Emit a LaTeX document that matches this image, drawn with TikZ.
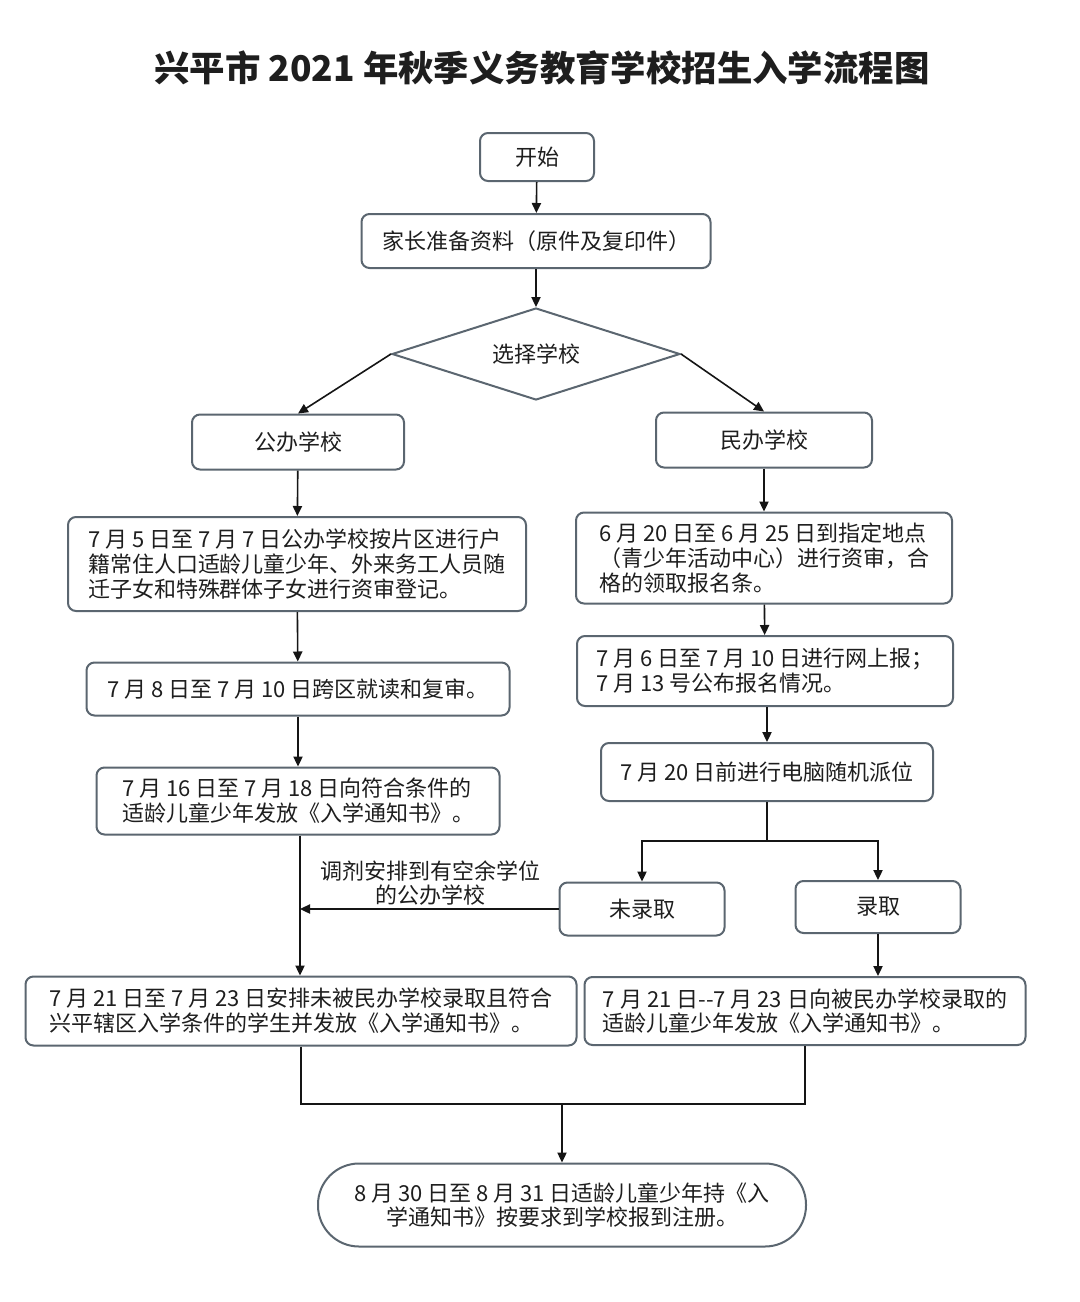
\documentclass[tikz,border=0pt]{standalone}
\usepackage{fontspec}
\setmainfont{Noto Sans CJK SC}
\usepackage{xcolor}
\usepackage{tikz}
\usetikzlibrary{arrows.meta,positioning,calc,shapes.geometric}
\definecolor{FlowInk}{HTML}{1E1E1E}
\definecolor{FlowFrame}{HTML}{5B6670}
\definecolor{FlowArrow}{HTML}{151515}

\tikzset{
  stepbox/.style={draw=FlowFrame,line width=1pt,rounded corners=4pt,
    fill=white,text=FlowInk,inner sep=0pt,
    font=\fontsize{11}{12.4}\selectfont},
  pill/.style={stepbox,rounded corners=20.5pt},
  choice/.style={draw=FlowFrame,line width=1pt,shape=diamond,aspect=3.1,
    inner sep=0pt,text=FlowInk,font=\fontsize{11}{12.4}\selectfont},
  flowline/.style={draw=FlowArrow,line width=0.8pt},
  flowarrow/.style={flowline,-{Triangle[length=5pt,width=4.6pt]}}
}

\begin{document}
\begin{tikzpicture}[x=0.5pt,y=-0.5pt]
  \useasboundingbox[fill=white] (0,0) rectangle (1080,1302);
  % Title.
  \node[FlowInk,font=\fontsize{17.7}{20}\selectfont\bfseries] (title) at (542,68)
        {兴平市 2021 年秋季义务教育学校招生入学流程图};
  % Common start.
  \node[stepbox,minimum width=57pt,minimum height=24pt] (start) at (537,157) {开始};
  \node[stepbox,minimum width=174.5pt,minimum height=27pt] (prep) at (536,241)
        {家长准备资料（原件及复印件）};
  \node[choice,minimum width=144pt,minimum height=46pt] (pick) at (536,354) {选择学校};
  \draw[flowarrow] (start) -- (prep);
  \draw[flowarrow] (prep) -- (pick);
  % Public school branch.
  \node[stepbox,minimum width=106pt,minimum height=27.5pt] (public) at (298,442) {公办学校};
  \node[stepbox,minimum width=229pt,minimum height=47pt,align=left] (pubcheck) at (297,564)
        {7 月 5 日至 7 月 7 日公办学校按片区进行户\\籍常住人口适龄儿童少年、外来务工人员随\\迁子女和特殊群体子女进行资审登记。};
  \node[stepbox,minimum width=211.5pt,minimum height=26.5pt] (pubcross) at (298,689)
        {7 月 8 日至 7 月 10 日跨区就读和复审。};
  \node[stepbox,minimum width=201.5pt,minimum height=33.5pt,align=left] (pubnotice) at (298,801)
        {7 月 16 日至 7 月 18 日向符合条件的\\适龄儿童少年发放《入学通知书》。};
  \node[stepbox,minimum width=275.5pt,minimum height=34.5pt,align=left] (pubassign) at (301,1011)
        {7 月 21 日至 7 月 23 日安排未被民办学校录取且符合\\兴平辖区入学条件的学生并发放《入学通知书》。};
  \draw[flowarrow] (pick.west) -- (public.north);
  \draw[flowarrow] (public) -- (pubcheck);
  \draw[flowarrow] (pubcheck) -- (pubcross);
  \draw[flowarrow] (pubcross) -- (pubnotice);
  \draw[flowarrow] (pubnotice.south) ++(2,0) coordinate (pubdrop) -- (pubdrop |- pubassign.north);
  % Private school branch.
  \node[stepbox,minimum width=108pt,minimum height=27.5pt] (private) at (764,440) {民办学校};
  \node[stepbox,minimum width=188pt,minimum height=45.5pt,align=left] (privcheck) at (764,558)
        {6 月 20 日至 6 月 25 日到指定地点\\（青少年活动中心）进行资审，合\\格的领取报名条。};
  \node[stepbox,minimum width=188pt,minimum height=35pt,align=left] (privapply) at (765,671)
        {7 月 6 日至 7 月 10 日进行网上报；\\7 月 13 号公布报名情况。};
  \node[stepbox,minimum width=166pt,minimum height=29pt] (privdraw) at (767,772)
        {7 月 20 日前进行电脑随机派位};
  \node[stepbox,minimum width=82.5pt,minimum height=26.5pt] (reject) at (642,909) {未录取};
  \node[stepbox,minimum width=82.5pt,minimum height=26pt] (admit) at (878,907) {录取};
  \node[stepbox,minimum width=220.5pt,minimum height=34pt,align=left] (privnotice) at (805,1011)
        {7 月 21 日-{}-7 月 23 日向被民办学校录取的\\适龄儿童少年发放《入学通知书》。};
  \draw[flowarrow] (pick.east) -- (private.north);
  \draw[flowarrow] (private) -- (privcheck);
  \draw[flowarrow] (privcheck) -- (privapply);
  \draw[flowarrow] (privapply.south -| privdraw) -- (privdraw);
  \coordinate (fork) at ($(privdraw.south)+(0,39)$);
  \draw[flowline] (privdraw.south) -- (fork);
  \draw[flowarrow] (fork) -| (reject.north);
  \draw[flowarrow] (fork) -| (admit.north);
  \draw[flowarrow] (admit.south) -- (admit.south |- privnotice.north);
  % Redirect to public school.
  \draw[flowarrow] (reject.west) -- (reject.west -| pubdrop);
  \node[text=FlowInk,align=center,inner sep=0pt,
        font=\fontsize{11}{12.4}\selectfont] (redirect) at (430,883)
        {调剂安排到有空余学位\\的公办学校};
  % Final registration.
  \node[pill,minimum width=244pt,minimum height=41.5pt,align=center] (register) at (562,1205)
        {8 月 30 日至 8 月 31 日适龄儿童少年持《入\\学通知书》按要求到学校报到注册。};
  \coordinate (merge) at (register.north |- 0,1104);
  \draw[flowline] (pubassign.south) |- (merge) -| (privnotice.south);
  \draw[flowarrow] (merge) -- (register.north);
\end{tikzpicture}
\end{document}
